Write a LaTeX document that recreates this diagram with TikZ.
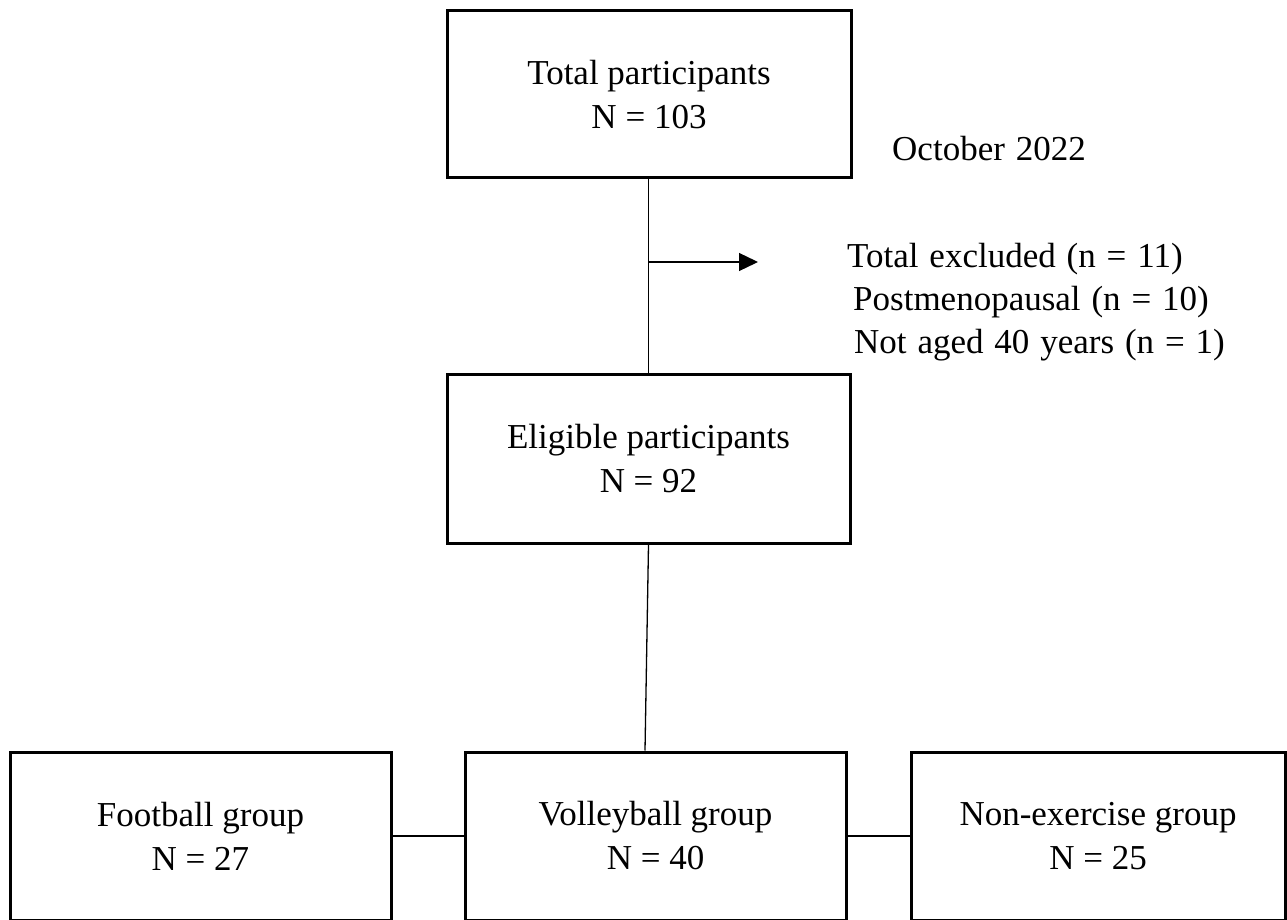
\documentclass[tikz,border=0pt]{standalone}
\usepackage{fontspec}
\setmainfont{Liberation Serif}
\usetikzlibrary{arrows.meta}
\newcommand\mylblfont{\fontsize{35}{44}\selectfont\spaceskip=0.31em\relax}
\begin{document}
\begin{tikzpicture}[x=1pt,y=-1pt,
  box/.style={draw,line width=3pt,inner sep=0pt,align=center,font=\fontsize{35}{44}\selectfont},
  conn/.style={line width=1.3pt},
  lbl/.style={inner sep=0pt,anchor=base west,font=\mylblfont}]
\useasboundingbox (0,0) rectangle (1287,920);
\fill[white] (0,0) rectangle (1287,920);
\node[box,minimum width=404pt,minimum height=167pt] (total) at (649,94.5) {Total participants\\N = 103};
\node[box,minimum width=403pt,minimum height=169pt] (elig) at (648.5,458.5) {Eligible participants\\N = 92};
\node[box,minimum width=381pt,minimum height=168pt] (football) at (200.5,836) {Football group\\N = 27};
\node[box,minimum width=381pt,minimum height=168pt] (volley) at (655.5,836) {Volleyball group\\N = 40};
\node[box,minimum width=374pt,minimum height=168pt] (nonex) at (1098,836) {Non-exercise group\\N = 25};
\node[lbl] (oct) at (892,161) {October 2022};
\node[lbl] (excl) at (847,267) {Total excluded (n = 11)};
\node[lbl] (post) at (853,310) {Postmenopausal (n = 10)};
\node[lbl] (notaged) at (854,353) {Not aged 40 years (n = 1)};
\coordinate (branch) at (648.5,262);
\coordinate (arrowend) at (758,262);
\draw[conn] (total.south -| elig.south) -- (elig.north);
\draw[conn,-{Triangle[length=19pt,width=18pt]}] (branch) -- (arrowend);
\draw[conn] (elig.south) -- ([xshift=-10.5pt]volley.north);
\draw[conn] (football.east) -- (volley.west);
\draw[conn] (volley.east) -- (nonex.west);
\end{tikzpicture}
\end{document}
